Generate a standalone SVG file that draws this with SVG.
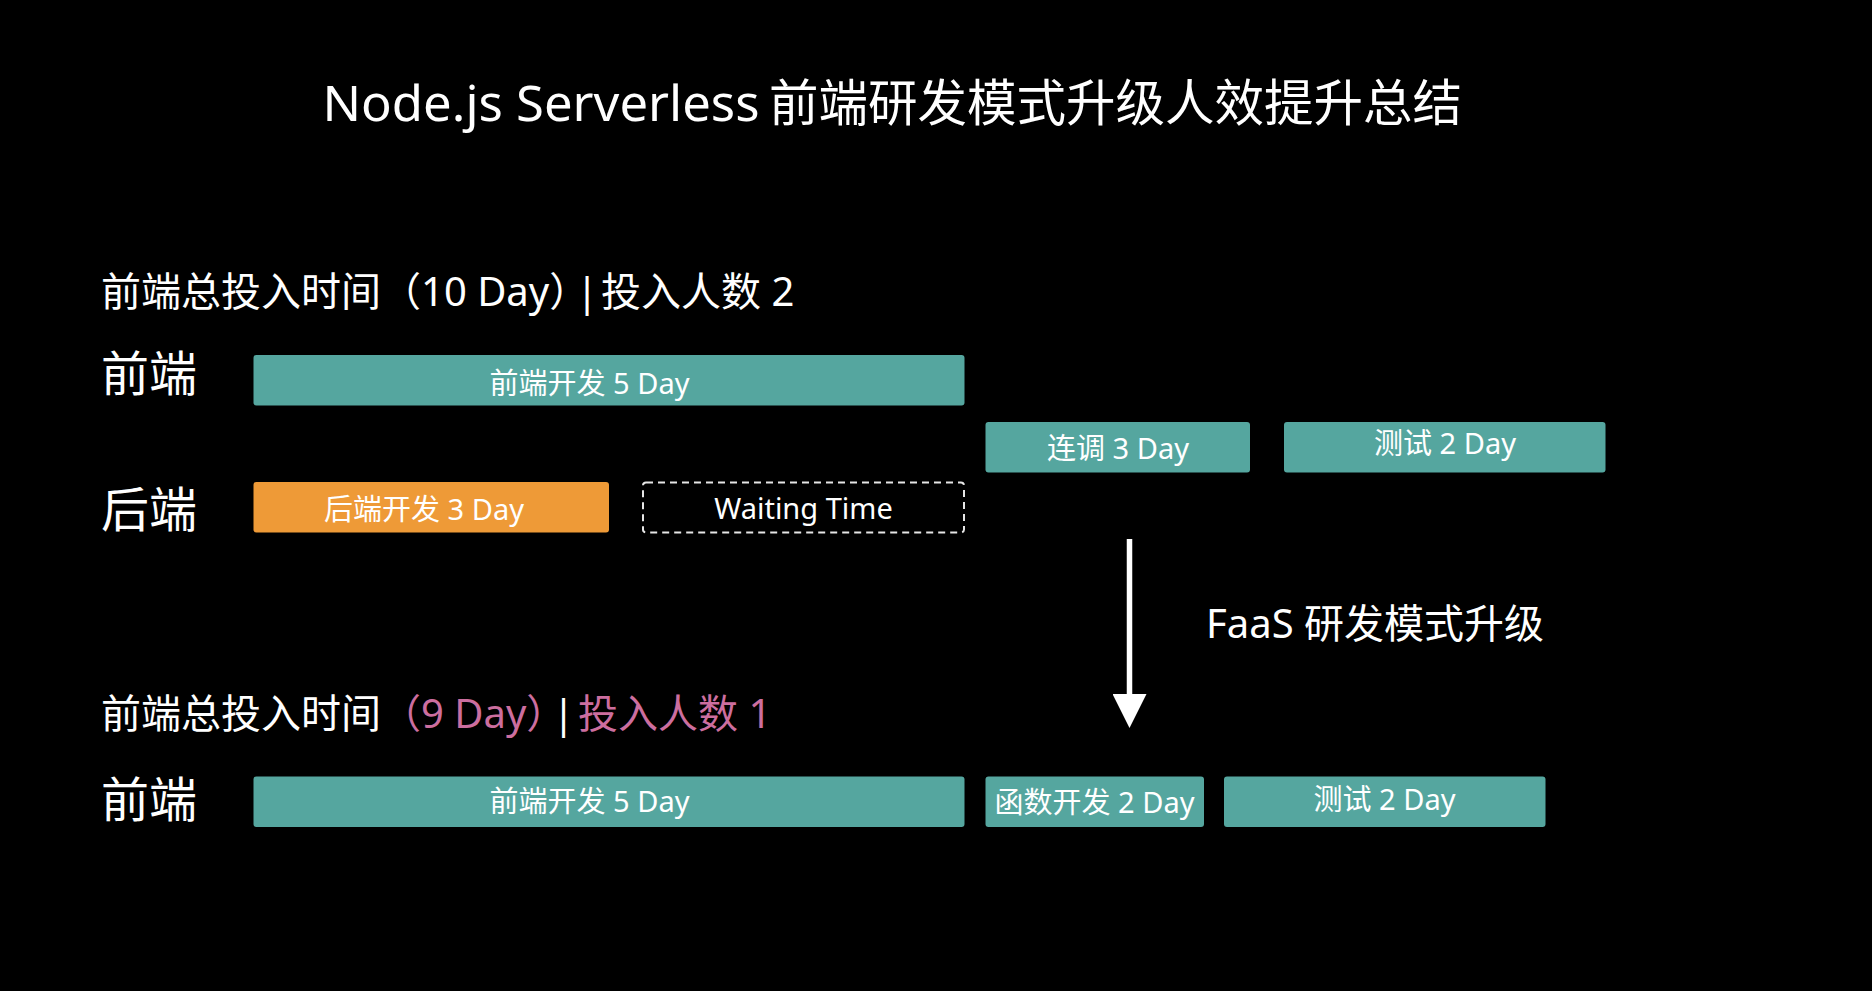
<svg xmlns="http://www.w3.org/2000/svg" width="1872" height="991" viewBox="0 0 1872 991">
  <defs>
    <style>
      text { font-family: "Noto Sans", "Noto Sans CJK SC", sans-serif; fill: #ffffff; }
      .title { font-size: 49.5px; }
      .head { font-size: 40px; }
      .halt { font-feature-settings: "halt" 1; }
      .pink { fill: #cc6e9f; }
      .row { font-size: 48px; }
      .bar { fill: #55a69f; }
      .orange { fill: #ee9a37; }
      .btxt { font-size: 29px; text-anchor: middle; }
      .wait { fill: none; stroke: #e6e6e6; stroke-width: 2; stroke-dasharray: 7 5; }
      .faas { font-size: 40px; }
    </style>
    <marker id="arrowhead" viewBox="0 0 34 34" markerWidth="34" markerHeight="34" markerUnits="userSpaceOnUse" orient="auto" refX="0" refY="17">
      <path d="M0,0 L34,17 L0,34 Z" fill="#ffffff"/>
    </marker>
  </defs>
  <rect x="0" y="0" width="1872" height="991" fill="#000000"/>

  <g id="title">
    <text class="title" x="322.5" y="120.5" textLength="437" lengthAdjust="spacingAndGlyphs">Node.js Serverless</text>
    <text class="title" x="769" y="120.5">前端研发模式升级人效提升总结</text>
  </g>

  <g id="heading-before">
    <text class="head" x="101" y="306">前端总投入时间（10 Day<tspan class="halt">）</tspan><tspan x="576">|</tspan><tspan x="601">投入人数 2</tspan></text>
  </g>

  <g id="label-fe-1">
    <text class="row" x="101" y="391">前端</text>
  </g>
  <g id="label-be">
    <text class="row" x="101" y="526.5">后端</text>
  </g>

  <g id="fe-dev-1">
    <rect class="bar" x="253.5" y="355" width="711" height="50.5" rx="3"/>
    <text class="btxt" x="589.5" y="393.5">前端开发 5 Day</text>
  </g>
  <g id="joint-debug">
    <rect class="bar" x="985.5" y="422" width="264.5" height="50.5" rx="3"/>
    <text class="btxt" x="1118" y="459">连调 3 Day</text>
  </g>
  <g id="test-1">
    <rect class="bar" x="1284" y="422" width="321.5" height="50.5" rx="3"/>
    <text class="btxt" x="1445" y="453.5">测试 2 Day</text>
  </g>
  <g id="be-dev">
    <rect class="orange" x="253.5" y="482" width="355.5" height="50.5" rx="3"/>
    <text class="btxt" x="424" y="519.5">后端开发 3 Day</text>
  </g>
  <g id="waiting">
    <rect class="wait" x="643" y="482.5" width="321" height="50" rx="3"/>
    <text class="btxt" x="803.5" y="518.5">Waiting Time</text>
  </g>

  <g id="connectors">
    <line x1="1129.5" y1="539" x2="1129.5" y2="694" stroke="#ffffff" stroke-width="5.5" marker-end="url(#arrowhead)"/>
  </g>

  <g id="faas-label">
    <text class="faas" x="1206" y="637.5">FaaS 研发模式升级</text>
  </g>

  <g id="heading-after">
    <text class="head" x="101" y="727.5">前端总投入时间<tspan class="pink">（9 Day</tspan><tspan class="pink halt">）</tspan><tspan x="552.5">|</tspan><tspan class="pink" x="578">投入人数 1</tspan></text>
  </g>

  <g id="label-fe-2">
    <text class="row" x="101" y="816.5">前端</text>
  </g>

  <g id="fe-dev-2">
    <rect class="bar" x="253.5" y="776.5" width="711" height="50.5" rx="3"/>
    <text class="btxt" x="589.5" y="812">前端开发 5 Day</text>
  </g>
  <g id="func-dev">
    <rect class="bar" x="985.5" y="776.5" width="218.5" height="50.5" rx="3"/>
    <text class="btxt" x="1094.5" y="812.5">函数开发 2 Day</text>
  </g>
  <g id="test-2">
    <rect class="bar" x="1224" y="776.5" width="321.5" height="50.5" rx="3"/>
    <text class="btxt" x="1384.5" y="810">测试 2 Day</text>
  </g>
</svg>
